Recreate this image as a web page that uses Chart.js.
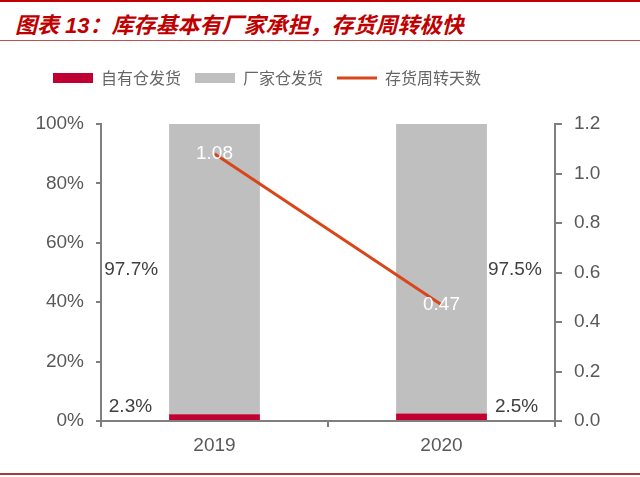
<!DOCTYPE html>
<html>
<head>
<meta charset="utf-8">
<script src="https://cdn.jsdelivr.net/npm/chart.js@4.4.0/dist/chart.umd.min.js"></script>
<style>
html, body { margin: 0; padding: 0; background: #fff; }
#wrap { position: relative; width: 640px; height: 477px; overflow: hidden; }
#topline { position: absolute; left: 0; top: 0; width: 640px; height: 2px; background: #c00000; }
#title { position: absolute; left: 15px; top: 7px; line-height: 30px; white-space: nowrap;
  font: italic bold 22px "Liberation Sans", "Noto Sans CJK SC", sans-serif; color: #c00000; }
#rule1 { position: absolute; left: 0; top: 40px; width: 640px; height: 1px; background: #c0504d; }
#rule2 { position: absolute; left: 0; top: 473px; width: 640px; height: 2px; background: #a83a3a; }
canvas { position: absolute; left: 0; top: 0; }
</style>
</head>
<body>
<div id="wrap">
  <div id="topline"></div>
  <div id="title">图表 13：库存基本有厂家承担，存货周转极快</div>
  <div id="rule1"></div>
  <canvas id="stockChart" width="640" height="477"></canvas>
  <div id="rule2"></div>
</div>
<script>
const years = ['2019', '2020'];
const ownShare = [2.3, 2.5];        // 自有仓发货 %
const factoryShare = [97.7, 97.5];  // 厂家仓发货 %
const turnoverDays = [1.08, 0.47];  // 存货周转天数

const axisColor = '#7f7f7f';
const tickFont = { family: '"Liberation Sans", Arial, sans-serif', size: 19 };

// value labels next to the bars and on the line points
const valueLabels = {
  id: 'valueLabels',
  afterDatasetsDraw(chart) {
    const ctx = chart.ctx;
    ctx.save();
    ctx.font = '19px "Liberation Sans", Arial, sans-serif';
    ctx.textBaseline = 'middle';
    ctx.fillStyle = '#404040';

    chart.getDatasetMeta(0).data.forEach((bar, i) => {
      const half = bar.width / 2;
      const txt = ownShare[i].toFixed(1) + '%';
      if (i === 0) {
        ctx.textAlign = 'right';
        ctx.fillText(txt, bar.x - half - 17, bar.y - 7);
      } else {
        ctx.textAlign = 'left';
        ctx.fillText(txt, bar.x + half + 8, bar.y - 7);
      }
    });

    chart.getDatasetMeta(1).data.forEach((bar, i) => {
      const half = bar.width / 2;
      const yMid = (bar.y + bar.base) / 2 + 1;
      const txt = factoryShare[i].toFixed(1) + '%';
      if (i === 0) {
        ctx.textAlign = 'right';
        ctx.fillText(txt, bar.x - half - 11, yMid);
      } else {
        ctx.textAlign = 'left';
        ctx.fillText(txt, bar.x + half + 1, yMid);
      }
    });

    ctx.fillStyle = '#ffffff';
    ctx.textAlign = 'center';
    chart.getDatasetMeta(2).data.forEach((pt, i) => {
      ctx.fillText(turnoverDays[i].toFixed(2), pt.x, pt.y);
    });
    ctx.restore();
  }
};

// legend drawn by hand so it sits where the original does
const sideLegend = {
  id: 'sideLegend',
  afterDraw(chart) {
    const ctx = chart.ctx;
    let x = 53;
    const y = 78;
    ctx.save();
    ctx.font = '16px "Noto Sans CJK SC", sans-serif';
    ctx.textBaseline = 'middle';
    ctx.textAlign = 'left';
    chart.data.datasets.forEach(ds => {
      if (ds.type === 'line') {
        ctx.strokeStyle = ds.borderColor;
        ctx.lineWidth = 3;
        ctx.beginPath();
        ctx.moveTo(x, y);
        ctx.lineTo(x + 40, y);
        ctx.stroke();
      } else {
        ctx.fillStyle = ds.backgroundColor;
        ctx.fillRect(x, y - 5, 40, 10);
      }
      x += 48;
      ctx.fillStyle = '#666666';
      ctx.fillText(ds.label, x, y);
      x += ctx.measureText(ds.label).width + 14;
    });
    ctx.restore();
  }
};

new Chart(document.getElementById('stockChart'), {
  type: 'bar',
  data: {
    labels: years,
    datasets: [
      {
        label: '自有仓发货',
        data: ownShare,
        backgroundColor: '#c00032',
        yAxisID: 'y',
        order: 2
      },
      {
        label: '厂家仓发货',
        data: factoryShare,
        backgroundColor: '#bfbfbf',
        yAxisID: 'y',
        order: 2
      },
      {
        type: 'line',
        label: '存货周转天数',
        data: turnoverDays,
        borderColor: '#d8461b',
        backgroundColor: '#d8461b',
        borderWidth: 3,
        pointRadius: 0,
        yAxisID: 'y1',
        order: 1
      }
    ]
  },
  options: {
    responsive: false,
    animation: false,
    layout: { padding: { top: 124, left: 0, right: 0, bottom: 16 } },
    plugins: {
      legend: { display: false },
      tooltip: { enabled: false }
    },
    datasets: {
      bar: { categoryPercentage: 1, barPercentage: 0.4 }
    },
    scales: {
      x: {
        stacked: true,
        border: { color: axisColor, width: 2 },
        grid: { drawOnChartArea: false, color: axisColor, tickLength: 6, lineWidth: 2 },
        ticks: { color: '#595959', font: tickFont, padding: 7 },
        afterFit(scale) { scale.height = 40; }
      },
      y: {
        stacked: true,
        position: 'left',
        min: 0,
        max: 100,
        border: { color: axisColor, width: 2 },
        grid: { drawOnChartArea: false, color: axisColor, tickLength: 5, lineWidth: 2 },
        ticks: { stepSize: 20, color: '#595959', font: tickFont, padding: 12,
          callback: v => v + '%' },
        afterFit(scale) { scale.width = 101; }
      },
      y1: {
        position: 'right',
        min: 0,
        max: 1.2,
        border: { color: axisColor, width: 2 },
        grid: { drawOnChartArea: false, color: axisColor, tickLength: 7, lineWidth: 2 },
        ticks: { stepSize: 0.2, color: '#595959', font: tickFont, padding: 12,
          callback: v => v.toFixed(1) },
        afterFit(scale) { scale.width = 85; }
      }
    }
  },
  plugins: [valueLabels, sideLegend]
});
</script>
</body>
</html>
